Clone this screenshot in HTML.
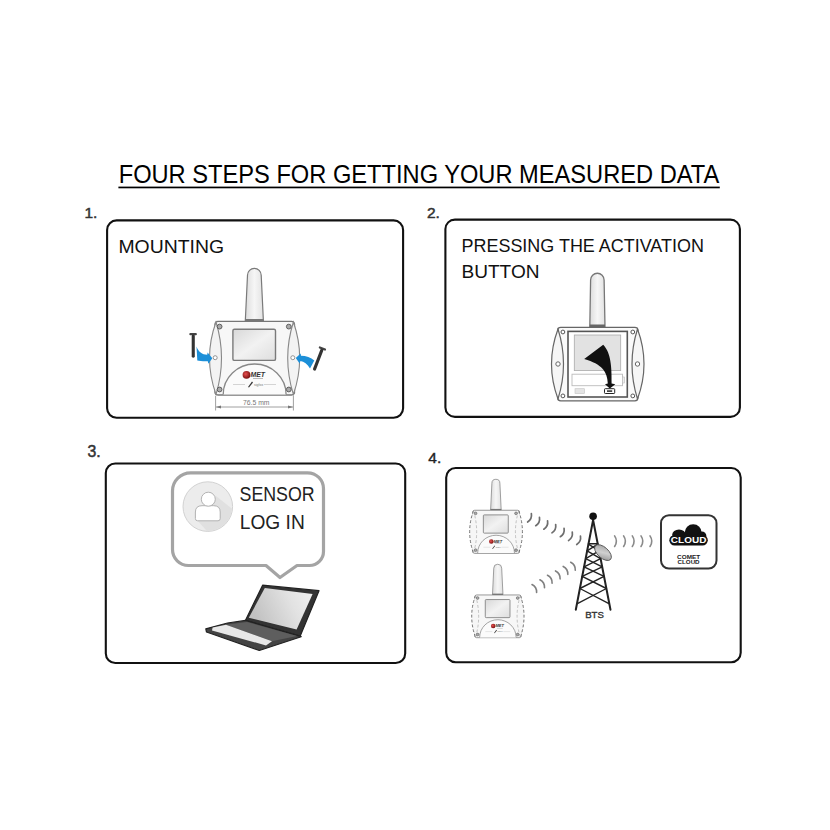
<!DOCTYPE html>
<html><head><meta charset="utf-8">
<style>
html,body{margin:0;padding:0;background:#fff;width:830px;height:830px;overflow:hidden;}
svg{display:block;font-family:"Liberation Sans",sans-serif;}
</style></head>
<body>
<svg width="830" height="830" viewBox="0 0 830 830">
<defs>
  <linearGradient id="ant" x1="0" x2="1" y1="0" y2="0">
    <stop offset="0" stop-color="#dcdcdc"/><stop offset="0.5" stop-color="#f6f6f6"/><stop offset="1" stop-color="#e2e2e2"/>
  </linearGradient>
  <linearGradient id="scr" x1="0" x2="1" y1="0" y2="1">
    <stop offset="0" stop-color="#d8d8d8"/><stop offset="0.5" stop-color="#f2f2f2"/><stop offset="1" stop-color="#dedede"/>
  </linearGradient>
  <radialGradient id="red" cx="0.4" cy="0.4" r="0.6">
    <stop offset="0" stop-color="#e85050"/><stop offset="1" stop-color="#7a1010"/>
  </radialGradient>
  <linearGradient id="dish" x1="0" x2="1" y1="0" y2="1">
    <stop offset="0" stop-color="#9a9a9a"/><stop offset="0.5" stop-color="#d0d0d0"/><stop offset="1" stop-color="#8a8a8a"/>
  </linearGradient>
  <linearGradient id="lscr" x1="0" x2="1" y1="0.3" y2="0">
    <stop offset="0" stop-color="#c2c2c2"/><stop offset="0.6" stop-color="#e2e2e2"/><stop offset="1" stop-color="#f0f0f0"/>
  </linearGradient>

  <!-- device (coords of device in panel 1) -->
  <g id="devcore">
    <path d="M245.3,321 L247.5,275.2 A6.85,6.85 0 0 1 261.2,275.2 L263.4,321 Z" fill="url(#ant)" stroke="#7a7a7a" stroke-width="1.2"/>
    <rect x="245.3" y="319" width="18.1" height="2.3" fill="#777"/>
    <path d="M218,321.3 L291.5,321.3 Q294,321.3 294.5,324 L294.5,393 Q294,395 291.5,395 L218,395 Q215.5,395 215,393 L215,324 Q215.5,321.3 218,321.3 Z" fill="#f7f7f7" stroke="#777" stroke-width="1.3"/>
    <rect x="232.9" y="329.2" width="42.6" height="31.2" rx="1.5" fill="url(#scr)" stroke="#7a7a7a" stroke-width="1.4"/>
    <path d="M223.2,394.5 A31.45,30.5 0 0 1 286.1,394.5" fill="#fbfbfb" stroke="#888" stroke-width="1.3"/>
    <circle cx="246.5" cy="374.8" r="3.9" fill="url(#red)"/>
    <text x="250.5" y="377" font-size="7" font-weight="bold" font-style="italic" fill="#333" textLength="14.5" lengthAdjust="spacingAndGlyphs">MET</text>
    <rect x="253" y="378.2" width="10" height="0.8" fill="#aaa"/>
    <line x1="233" y1="384.5" x2="245" y2="384.5" stroke="#bbb" stroke-width="0.6"/>
    <line x1="264" y1="384.5" x2="276" y2="384.5" stroke="#bbb" stroke-width="0.6"/>
    <path d="M248,387 L252,381.5 L253,382.5 L249,387.5 Z" fill="#333"/>
    <text x="254" y="386" font-size="3.5" fill="#777">sigfox</text>
  </g>
  <g id="screws">
    <circle cx="219.6" cy="326.6" r="2.4" fill="#aaa" stroke="#555" stroke-width="0.9"/>
    <circle cx="288.8" cy="326.6" r="2.4" fill="#aaa" stroke="#555" stroke-width="0.9"/>
    <circle cx="219.6" cy="389.5" r="2.4" fill="#aaa" stroke="#555" stroke-width="0.9"/>
    <circle cx="288.8" cy="389.5" r="2.4" fill="#aaa" stroke="#555" stroke-width="0.9"/>
  </g>
</defs>

<!-- Title -->
<text x="118.7" y="182.7" font-size="25" fill="#000" textLength="600.6" lengthAdjust="spacingAndGlyphs">FOUR STEPS FOR GETTING YOUR MEASURED DATA</text>
<rect x="118.4" y="186.6" width="601.4" height="1.7" fill="#000"/>

<!-- numbers -->
<text x="84.5" y="217.5" font-size="15.5" fill="#333" stroke="#333" stroke-width="0.5">1.</text>
<text x="427" y="218.4" font-size="15.5" fill="#333" stroke="#333" stroke-width="0.5">2.</text>
<text x="87.5" y="457.3" font-size="15.8" fill="#333" stroke="#333" stroke-width="0.5">3.</text>
<text x="428.3" y="462.8" font-size="15.5" fill="#222" stroke="#222" stroke-width="0.4">4.</text>

<!-- boxes -->
<rect x="107.1" y="220.4" width="296" height="197.4" rx="9.5" fill="none" stroke="#111" stroke-width="2.1"/>
<rect x="445.4" y="219.6" width="294.5" height="197.3" rx="9.5" fill="none" stroke="#111" stroke-width="2.1"/>
<rect x="105.8" y="463.5" width="299.4" height="199.5" rx="9.5" fill="none" stroke="#111" stroke-width="2.1"/>
<rect x="446.2" y="468" width="294.5" height="194.3" rx="9.5" fill="none" stroke="#111" stroke-width="2.1"/>

<!-- Panel texts -->
<text x="118.4" y="253" font-size="18.5" fill="#111" textLength="105.6" lengthAdjust="spacingAndGlyphs">MOUNTING</text>
<text x="461.5" y="252.4" font-size="18.5" fill="#111" textLength="242.4" lengthAdjust="spacingAndGlyphs">PRESSING THE ACTIVATION</text>
<text x="461.5" y="278.4" font-size="18.5" fill="#111" textLength="78" lengthAdjust="spacingAndGlyphs">BUTTON</text>

<!-- ===== Panel 1 device ===== -->
<g>
  <use href="#devcore"/>
  <!-- side lenses -->
  <path d="M216,322 Q203,358 216,394.5 Q227,358 216,322 Z" fill="#f3f3f3" stroke="#888" stroke-width="1.1"/>
  <path d="M293.4,322 Q306,358 293.4,394.5 Q282,358 293.4,322 Z" fill="#f3f3f3" stroke="#888" stroke-width="1.1"/>
  <circle cx="215.2" cy="357.7" r="2" fill="#fff" stroke="#888" stroke-width="0.9"/>
  <circle cx="292.8" cy="357.7" r="2" fill="#fff" stroke="#888" stroke-width="0.9"/>
  <use href="#screws"/>
  <!-- dimension -->
  <line x1="215.6" y1="396" x2="215.6" y2="410.5" stroke="#888" stroke-width="0.8"/>
  <line x1="293.4" y1="396" x2="293.4" y2="410.5" stroke="#888" stroke-width="0.8"/>
  <line x1="216" y1="407" x2="293" y2="407" stroke="#888" stroke-width="0.8"/>
  <path d="M216,407 L221,405.6 L221,408.4 Z M293,407 L288,405.6 L288,408.4 Z" fill="#777"/>
  <text x="256.3" y="405" font-size="6.8" fill="#777" text-anchor="middle">76.5 mm</text>
  <!-- left screw -->
  <rect x="189.3" y="333" width="7.6" height="2.3" rx="1" fill="#444"/>
  <rect x="191.7" y="334.5" width="3.1" height="23.2" rx="1.4" fill="#333"/>
  <!-- right screw -->
  <g transform="rotate(21 322.4 348.5)">
    <rect x="318.6" y="347.3" width="7.6" height="2.3" rx="1" fill="#444"/>
    <rect x="320.9" y="348.8" width="3.1" height="23.2" rx="1.4" fill="#333"/>
  </g>
  <!-- blue arrows -->
  <path d="M196.5,346.5 C198.5,352 202,354.5 207.2,354.8 L207.6,352.6 L212.3,358.2 L208.4,363.7 L207.8,361.3 C203,361.5 199.5,361 197.3,360.5 Z" fill="#1c8fd8"/>
  <path d="M314.3,360.4 C311,357.5 306,355.8 301,355.8 L300.6,353.5 L295.8,358 L299.6,363.5 L300.4,361 C304,361.5 307.5,364 310,368.6 Z" fill="#1c8fd8"/>
</g>

<!-- ===== Panel 2 device ===== -->
<g>
  <path d="M589.8,327 L590.6,280 A6.75,6.75 0 0 1 604.1,280 L605,327 Z" fill="url(#ant)" stroke="#777" stroke-width="1.3"/>
  <rect x="589.8" y="324.5" width="15.2" height="2.8" fill="#666"/>
  <rect x="557.7" y="327.4" width="80.2" height="73.4" rx="3" fill="#fafafa" stroke="#666" stroke-width="1.3"/>
  <path d="M558,329 Q545,364 558,399 Q569,364 558,329 Z" fill="#f6f6f6" stroke="#666" stroke-width="1.2"/>
  <path d="M637.5,329 Q650.5,364 637.5,399 Q626.5,364 637.5,329 Z" fill="#f6f6f6" stroke="#666" stroke-width="1.2"/>
  <circle cx="558" cy="364" r="2.2" fill="#fff" stroke="#666" stroke-width="1"/>
  <circle cx="637.5" cy="364" r="2.2" fill="#fff" stroke="#666" stroke-width="1"/>
  <rect x="568" y="331.4" width="59.3" height="65.6" fill="#fff" stroke="#555" stroke-width="1.6"/>
  <rect x="574.3" y="335" width="46.4" height="35.6" fill="#e2e2e2" stroke="#aaa" stroke-width="0.8"/>
  <rect x="572" y="374.2" width="50.5" height="11.5" fill="#fff" stroke="#bbb" stroke-width="0.9"/>
  <rect x="622.5" y="377" width="2" height="6" fill="#eee" stroke="#bbb" stroke-width="0.6"/>
  <rect x="575" y="388.7" width="9.6" height="4.8" fill="#e4e4e4" stroke="#c4c4c4" stroke-width="0.6"/>
  <rect x="604.5" y="388.7" width="10.2" height="4.8" rx="0.8" fill="#fff" stroke="#222" stroke-width="1"/>
  <rect x="607" y="390.3" width="5.2" height="1.6" fill="#333"/>
  <circle cx="562.9" cy="332" r="1.9" fill="#fff" stroke="#555" stroke-width="1"/>
  <circle cx="632.8" cy="332" r="1.9" fill="#fff" stroke="#555" stroke-width="1"/>
  <circle cx="562.9" cy="395.9" r="1.9" fill="#fff" stroke="#555" stroke-width="1"/>
  <circle cx="632.8" cy="395.9" r="1.9" fill="#fff" stroke="#555" stroke-width="1"/>
  <!-- black arrow -->
  <path d="M584.2,359 L603.2,344.8 C609.5,351.5 612,362 611.6,383.4 L615.3,384.3 L609.8,388.4 L605,384.3 L607.8,383.5 C607.5,372 602,364 584.2,359 Z" fill="#111"/>
</g>

<!-- ===== Panel 3 ===== -->
<g>
  <path d="M191,472.8 L307.5,472.8 A16,16 0 0 1 323.5,488.8 L323.5,551.5 A14,14 0 0 1 309.5,565.5 L297,565.5 L280,577.5 L266,565.5 L188.5,565.5 A16,16 0 0 1 172.5,549.5 L172.5,491 A18.2,18.2 0 0 1 190.7,472.8 Z" fill="#fff" stroke="#a4a4a4" stroke-width="3.2" stroke-linejoin="round"/>
  <circle cx="207.8" cy="506.6" r="24.8" fill="#ececec" stroke="#d2d2d2" stroke-width="1"/>
  <clipPath id="avc"><circle cx="207.8" cy="506.6" r="24.3"/></clipPath>
  <path d="M196,519 L215,540 L240,540 L240,515 L216,496 Z" fill="#e0e0e0" clip-path="url(#avc)"/>
  <path d="M195.4,518.6 L195.4,512 Q195.4,505.7 202,505.7 L213.6,505.7 Q220.2,505.7 220.2,512 L220.2,518.6 Q220.2,520.8 218,520.8 L197.6,520.8 Q195.4,520.8 195.4,518.6 Z" fill="#fff" stroke="#aaa" stroke-width="0.9"/>
  <circle cx="208.3" cy="499.2" r="7" fill="#fff" stroke="#aaa" stroke-width="0.9"/>
  <text x="239.5" y="501.1" font-size="19.5" fill="#222" textLength="75.2" lengthAdjust="spacingAndGlyphs">SENSOR</text>
  <text x="239.8" y="529.3" font-size="19.5" fill="#222" textLength="65" lengthAdjust="spacingAndGlyphs">LOG IN</text>
  <!-- laptop -->
  <path d="M262.6,585.2 L319,590.7 L300.2,636.1 L245.4,620.4 Z" fill="#333" stroke="#222" stroke-width="1.2" stroke-linejoin="round"/>
  <path d="M264.8,588 L312.6,594 L296.6,629.6 L248.8,617.8 Z" fill="url(#lscr)"/>
  <path d="M205.8,628.8 L227.5,623 L245.4,620.4 L301.2,636.7 L259.3,650.5 L206.5,632 Z" fill="#444" stroke="#222" stroke-width="1.2" stroke-linejoin="round"/>
  <path d="M226,624.8 L247,622 L297,636 L272,641.2 Z" fill="#5e5e5e"/>
  <path d="M212.6,627.4 L226,624.8 L272,641.2 L266,645.4 L212,630.6 Z" fill="#e8e8e8"/>
</g>

<!-- ===== Panel 4 ===== -->
<g transform="translate(347.1,322.3) scale(0.585)">
  <use href="#devcore"/>
  <path d="M216,322 Q203,358 216,394.5 Q227,358 216,322 Z" fill="#f6f6f6"/>
  <path d="M293.4,322 Q306,358 293.4,394.5 Q282,358 293.4,322 Z" fill="#f6f6f6"/>
  <path d="M216,322 Q203,358 216,394.5 M293.4,322 Q306,358 293.4,394.5" fill="none" stroke="#6a6a6a" stroke-width="1.6" stroke-dasharray="5 3.5"/>
  <path d="M216,322 Q227,358 216,394.5 M293.4,322 Q282,358 293.4,394.5" fill="none" stroke="#aaa" stroke-width="1.2" stroke-dasharray="5 3.5"/>
  <use href="#screws"/>
</g>
<g transform="translate(350.2,408.6) scale(0.58)">
  <use href="#devcore"/>
  <path d="M216,322 Q203,358 216,394.5 Q227,358 216,322 Z" fill="#f6f6f6"/>
  <path d="M293.4,322 Q306,358 293.4,394.5 Q282,358 293.4,322 Z" fill="#f6f6f6"/>
  <path d="M216,322 Q203,358 216,394.5 M293.4,322 Q306,358 293.4,394.5" fill="none" stroke="#6a6a6a" stroke-width="1.6" stroke-dasharray="5 3.5"/>
  <path d="M216,322 Q227,358 216,394.5 M293.4,322 Q282,358 293.4,394.5" fill="none" stroke="#aaa" stroke-width="1.2" stroke-dasharray="5 3.5"/>
  <use href="#screws"/>
</g>

<!-- waves -->
<g fill="none" stroke="#6e6e6e" stroke-width="1.7" stroke-linecap="round">
<path d="M0,-4.6 Q3,0 0,4.6" transform="translate(529.5,517.8) rotate(24)"/>
<path d="M0,-4.6 Q3,0 0,4.6" transform="translate(537.6,521.5) rotate(24)"/>
<path d="M0,-4.6 Q3,0 0,4.6" transform="translate(545.7,525) rotate(24)"/>
<path d="M0,-4.6 Q3,0 0,4.6" transform="translate(553.8,528.7) rotate(24)"/>
<path d="M0,-4.6 Q3,0 0,4.6" transform="translate(562.2,532.5) rotate(24)"/>
<path d="M0,-4.6 Q3,0 0,4.6" transform="translate(570.4,536.4) rotate(24)"/>
<path d="M0,-4.6 Q3,0 0,4.6" transform="translate(578.6,540.3) rotate(24)"/>
</g>
<g fill="none" stroke="#808080" stroke-width="1.6" stroke-linecap="round">
<path d="M0,-4.6 Q3,0 0,4.6" transform="translate(534.3,588.5) rotate(-30)"/>
<path d="M0,-4.6 Q3,0 0,4.6" transform="translate(542.2,583.8) rotate(-30)"/>
<path d="M0,-4.6 Q3,0 0,4.6" transform="translate(549.8,579.2) rotate(-30)"/>
<path d="M0,-4.6 Q3,0 0,4.6" transform="translate(557.8,574.9) rotate(-30)"/>
<path d="M0,-4.6 Q3,0 0,4.6" transform="translate(565.5,570.4) rotate(-30)"/>
<path d="M0,-4.6 Q3,0 0,4.6" transform="translate(573,566.2) rotate(-30)"/>
</g>
<g fill="none" stroke="#8a8a8a" stroke-width="1.6" stroke-linecap="round">
<path d="M0,-5.3 Q3.6,0 0,5.3" transform="translate(614.6,541.2)"/>
<path d="M0,-5.3 Q3.6,0 0,5.3" transform="translate(623.6,541.2)"/>
<path d="M0,-5.3 Q3.6,0 0,5.3" transform="translate(632.3,541.2)"/>
<path d="M0,-5.3 Q3.6,0 0,5.3" transform="translate(641,541.2)"/>
<path d="M0,-5.3 Q3.6,0 0,5.3" transform="translate(650,541.2)"/>
</g>

<!-- tower -->
<g stroke="#222" stroke-width="1.4" fill="none" stroke-linecap="round">
<line x1="588.5" y1="543.7" x2="597.7" y2="543.7"/>
<line x1="588.4" y1="544.2" x2="599.1" y2="550.9"/>
<line x1="597.8" y1="544.2" x2="587.1" y2="550.9"/>
<line x1="587.1" y1="550.9" x2="600.6" y2="558.6"/>
<line x1="599.1" y1="550.9" x2="585.7" y2="558.6"/>
<line x1="585.7" y1="558.6" x2="602.2" y2="566.8"/>
<line x1="600.6" y1="558.6" x2="584.1" y2="566.8"/>
<line x1="584.1" y1="566.8" x2="604.0" y2="576.4"/>
<line x1="602.2" y1="566.8" x2="582.2" y2="576.4"/>
<line x1="582.2" y1="576.4" x2="606.4" y2="588.5"/>
<line x1="604.0" y1="576.4" x2="579.9" y2="588.5"/>
<line x1="579.9" y1="588.5" x2="609.4" y2="603.9"/>
<line x1="606.4" y1="588.5" x2="576.9" y2="603.9"/>
</g>
<g stroke="#222" fill="none" stroke-linecap="round">
  <line x1="593.1" y1="520" x2="575.8" y2="609.7" stroke-width="2"/>
  <line x1="593.1" y1="520" x2="610.5" y2="609.7" stroke-width="2"/>
</g>
<circle cx="593.1" cy="516.3" r="3.8" fill="#111"/>
<ellipse cx="603" cy="552.6" rx="10.2" ry="5.4" transform="rotate(42 603 552.6)" fill="url(#dish)" stroke="#555" stroke-width="0.9"/>
<text x="594.5" y="618.3" font-size="9.6" fill="#333" stroke="#333" stroke-width="0.35" text-anchor="middle">BTS</text>

<!-- cloud box -->
<rect x="661" y="515.2" width="55.5" height="53.4" rx="8" fill="#fff" stroke="#333" stroke-width="2"/>
<g fill="#111">
  <ellipse cx="679" cy="534.8" rx="6.8" ry="5.2"/>
  <circle cx="693.2" cy="532.8" r="8.5"/>
  <circle cx="701.8" cy="536" r="4.6"/>
  <rect x="669.3" y="534.9" width="38.5" height="10.6" rx="5.3"/>
</g>
<text x="688.6" y="543.2" font-size="8.8" font-weight="bold" fill="#fff" text-anchor="middle" textLength="35.5" lengthAdjust="spacingAndGlyphs">CLOUD</text>
<text x="688.6" y="558.5" font-size="6.2" font-weight="bold" fill="#222" text-anchor="middle" textLength="23" lengthAdjust="spacingAndGlyphs">COMET</text>
<text x="688.6" y="564.3" font-size="6.2" font-weight="bold" fill="#222" text-anchor="middle" textLength="22" lengthAdjust="spacingAndGlyphs">CLOUD</text>
</svg>
</body></html>
